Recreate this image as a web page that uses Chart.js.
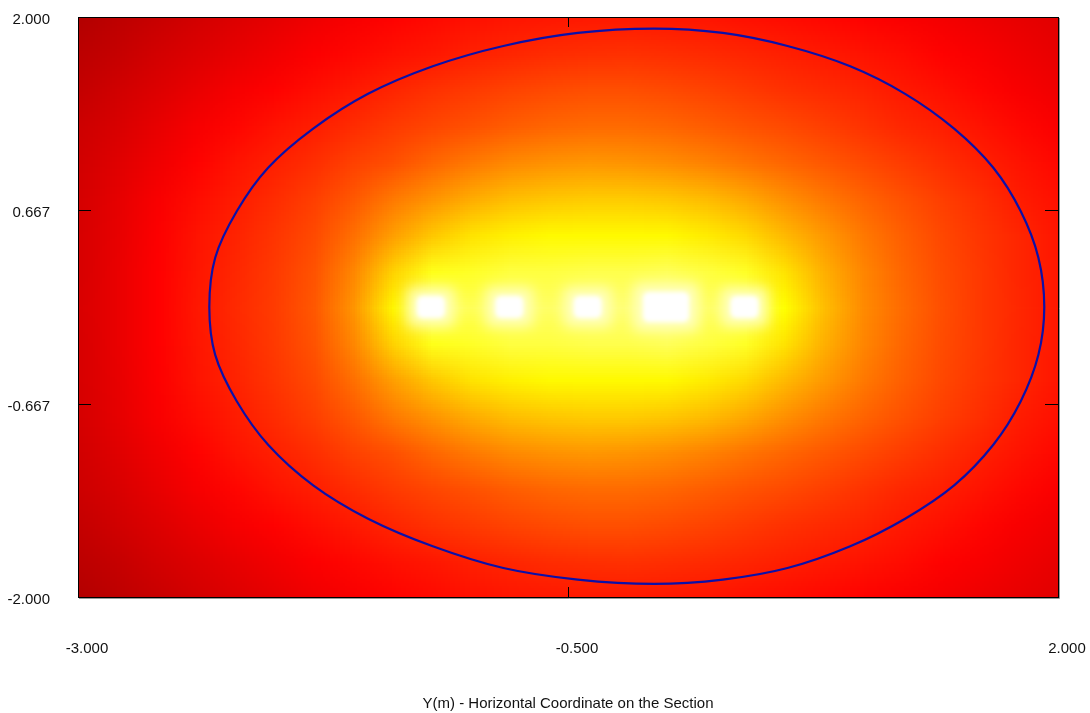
<!DOCTYPE html>
<html>
<head>
<meta charset="utf-8">
<script src="https://cdn.jsdelivr.net/npm/chart.js@4.4.1/dist/chart.umd.min.js"></script>
<style>
  html, body { margin: 0; padding: 0; background: #fff; }
</style>
</head>
<body>
<canvas id="sectionChart" width="1090" height="713"></canvas>
<script>
// Ticks of both axes
const xTicks = [-3, -0.5, 2];
const yTicks = [2, 0.667, -0.667, -2];

// Positions of the colour map samples
const gridX = [-3.0, -2.8, -2.6, -2.4, -2.2, -2.0, -1.8, -1.6, -1.4, -1.2, -1.0, -0.8, -0.6,
               -0.4, -0.2, 0.0, 0.2, 0.4, 0.6, 0.8, 1.0, 1.2, 1.4, 1.6, 1.8, 2.0];
const gridY = [2.0, 1.75, 1.5, 1.25, 1.0, 0.75, 0.5, 0.25, 0.0,
               -0.25, -0.5, -0.75, -1.0, -1.25, -1.5, -1.75, -2.0];

// Level (0 = dark red, 1 = white), one row per gridY
const lvlP200 = [0.07,0.095,0.12,0.145,0.17,0.19,0.215,0.235,0.255,0.27,0.285,0.295,0.30,0.305,0.305,0.30,0.295,0.285,0.275,0.265,0.255,0.24,0.225,0.21,0.195,0.18];
const lvlP175 = [0.09,0.115,0.145,0.17,0.195,0.22,0.245,0.265,0.285,0.30,0.318,0.333,0.345,0.352,0.355,0.35,0.34,0.33,0.317,0.305,0.29,0.275,0.255,0.235,0.215,0.195];
const lvlP150 = [0.11,0.14,0.17,0.20,0.23,0.255,0.28,0.305,0.33,0.355,0.375,0.395,0.41,0.42,0.42,0.41,0.395,0.375,0.355,0.34,0.325,0.305,0.285,0.26,0.235,0.215];
const lvlP125 = [0.13,0.16,0.195,0.23,0.26,0.29,0.315,0.345,0.375,0.40,0.425,0.45,0.47,0.48,0.48,0.47,0.45,0.43,0.41,0.385,0.36,0.335,0.315,0.29,0.265,0.24];
const lvlP100 = [0.14,0.175,0.215,0.255,0.29,0.32,0.35,0.39,0.42,0.47,0.51,0.545,0.565,0.575,0.57,0.555,0.53,0.50,0.47,0.44,0.41,0.38,0.35,0.32,0.29,0.265];
const lvlP075 = [0.15,0.19,0.235,0.275,0.31,0.345,0.385,0.44,0.51,0.57,0.62,0.66,0.68,0.69,0.69,0.68,0.655,0.615,0.56,0.51,0.465,0.425,0.385,0.35,0.31,0.285];
const lvlP050 = [0.155,0.195,0.245,0.29,0.325,0.365,0.41,0.49,0.59,0.68,0.74,0.77,0.79,0.79,0.79,0.79,0.76,0.72,0.65,0.58,0.51,0.455,0.405,0.365,0.33,0.295];
const lvlP025 = [0.155,0.20,0.25,0.295,0.335,0.375,0.43,0.54,0.70,0.82,0.83,0.85,0.85,0.86,0.86,0.87,0.85,0.83,0.74,0.63,0.54,0.47,0.415,0.37,0.33,0.30];
const lvl000  = [0.16,0.20,0.25,0.30,0.34,0.38,0.44,0.57,0.78,0.88,0.87,0.88,0.88,0.89,0.89,0.90,0.88,0.87,0.80,0.66,0.55,0.48,0.42,0.37,0.335,0.30];
const lvlM025 = [0.155,0.20,0.25,0.295,0.335,0.375,0.43,0.54,0.70,0.82,0.83,0.85,0.85,0.86,0.86,0.87,0.85,0.83,0.74,0.63,0.54,0.47,0.415,0.37,0.33,0.30];
const lvlM050 = [0.155,0.195,0.245,0.29,0.325,0.365,0.41,0.49,0.59,0.68,0.74,0.77,0.79,0.79,0.79,0.79,0.76,0.72,0.65,0.58,0.51,0.455,0.405,0.365,0.33,0.295];
const lvlM075 = [0.15,0.19,0.235,0.275,0.31,0.345,0.385,0.44,0.51,0.57,0.62,0.66,0.68,0.69,0.69,0.68,0.655,0.615,0.56,0.51,0.465,0.425,0.385,0.35,0.31,0.285];
const lvlM100 = [0.14,0.175,0.215,0.255,0.29,0.32,0.35,0.39,0.42,0.47,0.51,0.545,0.565,0.575,0.57,0.555,0.53,0.50,0.47,0.44,0.41,0.38,0.35,0.32,0.29,0.265];
const lvlM125 = [0.13,0.16,0.195,0.23,0.26,0.29,0.315,0.345,0.375,0.40,0.425,0.45,0.47,0.48,0.48,0.47,0.45,0.43,0.41,0.385,0.36,0.335,0.315,0.29,0.265,0.24];
const lvlM150 = [0.11,0.14,0.17,0.20,0.23,0.255,0.28,0.305,0.33,0.355,0.375,0.395,0.41,0.42,0.42,0.41,0.395,0.375,0.355,0.34,0.325,0.305,0.285,0.26,0.235,0.215];
const lvlM175 = [0.09,0.115,0.145,0.17,0.195,0.22,0.245,0.265,0.285,0.30,0.318,0.333,0.345,0.352,0.355,0.35,0.34,0.33,0.317,0.305,0.29,0.275,0.255,0.235,0.215,0.195];
const lvlM200 = [0.07,0.095,0.12,0.145,0.17,0.19,0.215,0.235,0.255,0.27,0.285,0.295,0.30,0.305,0.305,0.30,0.295,0.285,0.275,0.265,0.255,0.24,0.225,0.21,0.195,0.18];

const levels = [lvlP200, lvlP175, lvlP150, lvlP125, lvlP100, lvlP075, lvlP050, lvlP025, lvl000,
                lvlM025, lvlM050, lvlM075, lvlM100, lvlM125, lvlM150, lvlM175, lvlM200];

// White hot spots along the centre line
const spotX = [-1.2, -0.8, -0.4, 0.0, 0.4];
const spotY = [0, 0, 0, 0, 0];

// Contour line (blue outline), clockwise from the left tip
const contourX = [-2.33, -2.30, -2.19, -2.03, -1.80, -1.52, -1.19, -0.83, -0.45, -0.06, 0.29, 0.62,
                  0.94, 1.22, 1.47, 1.67, 1.81, 1.90, 1.93, 1.90, 1.81, 1.67, 1.47, 1.22,
                  0.94, 0.62, 0.29, -0.06, -0.45, -0.83, -1.19, -1.52, -1.80, -2.03, -2.19, -2.30];
const contourY = [0.00, 0.34, 0.66, 0.96, 1.23, 1.47, 1.66, 1.80, 1.89, 1.92, 1.89, 1.80,
                  1.66, 1.47, 1.23, 0.96, 0.66, 0.34, 0.00, -0.33, -0.65, -0.95, -1.23, -1.46,
                  -1.65, -1.80, -1.88, -1.91, -1.88, -1.80, -1.65, -1.46, -1.23, -0.95, -0.65, -0.33];

const FONT = { family: '"Liberation Sans", Arial, sans-serif', size: 15 };
const TEXT = '#111';

// hot colour map: dark red -> red -> yellow -> white
function levelColor(v) {
    const r = v < 0.25 ? 150 + 105 * v / 0.25 : 255;
    const g = Math.min(Math.max((v - 0.25) / 0.55, 0), 1) * 255;
    const b = Math.min(Math.max((v - 0.8) / 0.2, 0), 1) * 255;
    return [Math.round(r), Math.round(g), Math.round(b)];
}

// sprite for a hot spot: white block with a pale glow
function makeSpot(w, h) {
    const pad = 24;
    const c = document.createElement('canvas');
    c.width = w + 2 * pad;
    c.height = h + 2 * pad;
    const g = c.getContext('2d');
    g.filter = 'blur(7px)';
    g.fillStyle = 'rgba(255,255,200,0.95)';
    g.fillRect(pad - 9, pad - 8, w + 18, h + 16);
    g.filter = 'blur(2px)';
    g.fillStyle = '#fff';
    g.beginPath();
    g.roundRect(pad, pad, w, h, 6);
    g.fill();
    return c;
}
const smallSpot = makeSpot(28, 22);
const bigSpot = makeSpot(46, 30);

const heatmapPlugin = {
    id: 'heatmap',
    afterDatasetUpdate(chart, args) {
        // the contour is a closed curve
        if (args.index === 0) {
            args.meta.dataset._loop = true;
            args.meta.dataset._fullLoop = true;
        }
    },
    beforeDatasetsDraw(chart) {
        const { ctx, chartArea, scales } = chart;
        const cols = gridX.length, rows = gridY.length;
        const img = document.createElement('canvas');
        img.width = cols;
        img.height = rows;
        const ictx = img.getContext('2d');
        const pix = ictx.createImageData(cols, rows);
        levels.forEach((row, j) => row.forEach((v, i) => {
            const c = levelColor(v);
            const k = (j * cols + i) * 4;
            pix.data[k] = c[0]; pix.data[k + 1] = c[1]; pix.data[k + 2] = c[2]; pix.data[k + 3] = 255;
        }));
        ictx.putImageData(pix, 0, 0);

        const hx = (gridX[1] - gridX[0]) / 2, hy = (gridY[0] - gridY[1]) / 2;
        const left = scales.x.getPixelForValue(gridX[0] - hx);
        const right = scales.x.getPixelForValue(gridX[cols - 1] + hx);
        const top = scales.y.getPixelForValue(gridY[0] + hy);
        const bottom = scales.y.getPixelForValue(gridY[rows - 1] - hy);

        ctx.save();
        ctx.beginPath();
        ctx.rect(chartArea.left, chartArea.top, chartArea.width, chartArea.height);
        ctx.clip();
        ctx.imageSmoothingEnabled = true;
        ctx.imageSmoothingQuality = 'low';
        ctx.drawImage(img, left, top, right - left, bottom - top);
        ctx.restore();
    },
    afterDatasetsDraw(chart) {
        const { ctx, chartArea: a, scales } = chart;
        ctx.save();
        // frame with a light shadow
        ctx.strokeStyle = '#999';
        ctx.lineWidth = 1;
        ctx.beginPath();
        ctx.moveTo(a.left + 1, a.bottom + 1.5);
        ctx.lineTo(a.right + 1.5, a.bottom + 1.5);
        ctx.lineTo(a.right + 1.5, a.top + 1);
        ctx.stroke();
        ctx.strokeStyle = '#000';
        ctx.strokeRect(a.left + 0.5, a.top + 0.5, a.right - a.left, a.bottom - a.top);
        // inner tick marks
        ctx.beginPath();
        yTicks.forEach(v => {
            if (v <= scales.y.min || v >= scales.y.max) return;
            const py = Math.round(scales.y.getPixelForValue(v)) + 0.5;
            ctx.moveTo(a.left, py); ctx.lineTo(a.left + 13, py);
            ctx.moveTo(a.right, py); ctx.lineTo(a.right - 13, py);
        });
        xTicks.forEach(v => {
            if (v <= scales.x.min || v >= scales.x.max) return;
            const px = Math.round(scales.x.getPixelForValue(v)) + 0.5;
            ctx.moveTo(px, a.bottom); ctx.lineTo(px, a.bottom - 10);
            ctx.moveTo(px, a.top); ctx.lineTo(px, a.top + 10);
        });
        ctx.stroke();
        ctx.restore();
    }
};

new Chart(document.getElementById('sectionChart'), {
    type: 'scatter',
    data: {
        datasets: [{
            data: contourX.map((x, i) => ({ x: x, y: contourY[i] })),
            showLine: true,
            spanGaps: true,
            borderColor: '#0c10a8',
            borderWidth: 2.2,
            pointRadius: 0,
            tension: 0.35,
            fill: false
        }, {
            data: spotX.map((x, i) => ({ x: x, y: spotY[i] })),
            pointRadius: 10,
            pointStyle: c => (spotX[c.dataIndex] === 0 ? bigSpot : smallSpot)
        }]
    },
    options: {
        responsive: false,
        animation: false,
        events: [],
        layout: { padding: { left: 0, top: 17, right: 32, bottom: 0 } },
        plugins: { legend: { display: false }, tooltip: { enabled: false } },
        scales: {
            x: {
                type: 'linear', min: -3, max: 2,
                afterBuildTicks: s => { s.ticks = xTicks.map(v => ({ value: v })); },
                afterFit: s => { s.height = 116; s.paddingLeft = 0; s.paddingRight = 0; },
                grid: { display: false, drawTicks: false },
                border: { display: false },
                ticks: {
                    padding: 43, labelOffset: 9, color: TEXT, font: FONT,
                    maxRotation: 0, autoSkip: false,
                    callback: v => Number(v).toFixed(3)
                },
                title: {
                    display: true, text: 'Y(m) - Horizontal Coordinate on the Section',
                    color: TEXT, font: FONT, padding: { top: 0, bottom: 0 }
                }
            },
            y: {
                type: 'linear', min: -2, max: 2,
                afterBuildTicks: s => { s.ticks = yTicks.map(v => ({ value: v })); },
                afterFit: s => { s.width = 78; s.paddingTop = 0; s.paddingBottom = 0; },
                grid: { display: false, drawTicks: false },
                border: { display: false },
                ticks: {
                    padding: 28, labelOffset: 3, color: TEXT, font: FONT,
                    autoSkip: false,
                    callback: v => Number(v).toFixed(3)
                }
            }
        }
    },
    plugins: [heatmapPlugin]
});
</script>
</body>
</html>
